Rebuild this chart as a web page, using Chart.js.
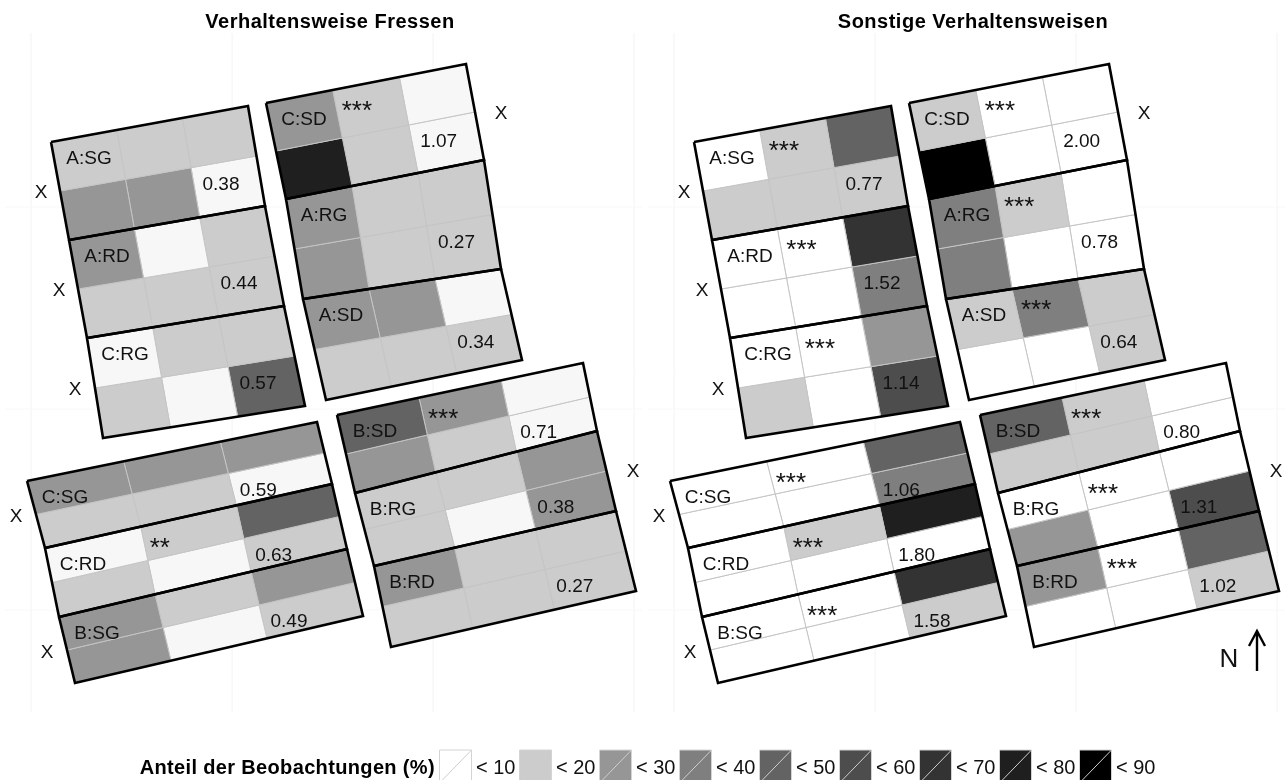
<!DOCTYPE html>
<html lang="de">
<head>
    <meta charset="UTF-8">
    <title>Anteil der Beobachtungen</title>
    <script src="https://cdn.jsdelivr.net/npm/chart.js"></script>
    <style>
        body {
            margin: 0;
            padding: 0;
            background: white;
        }
        canvas {
            display: block;
        }
    </style>
</head>
<body>
    <canvas id="mapChart" width="1285" height="780"></canvas>

    <script>
        // plots in the order they appear in every list below
        const plotNames = ['A:SG', 'A:RD', 'C:RG', 'C:SD', 'A:RG', 'A:SD', 'C:SG', 'C:RD', 'B:SG', 'B:SD', 'B:RG', 'B:RD'];

        // map position of each plot: top left, top right, bottom right, bottom left
        const plotCorners = [
            [[51, 142], [248, 106], [265, 206], [69, 240]],
            [[69, 240], [265, 206], [284, 306], [87, 338]],
            [[87, 338], [284, 306], [305, 406], [103, 438]],
            [[266, 103], [466, 64], [484, 160], [286, 199]],
            [[286, 199], [484, 160], [501, 269], [303, 299]],
            [[303, 299], [501, 269], [522, 360], [326, 400]],
            [[27, 481], [317, 422], [332, 484], [45, 548]],
            [[45, 548], [332, 484], [347, 549], [59, 617]],
            [[59, 617], [347, 549], [363, 616], [75, 683]],
            [[337, 415], [583, 363], [597, 431], [355, 493]],
            [[355, 493], [597, 431], [616, 511], [374, 566]],
            [[374, 566], [616, 511], [636, 591], [391, 647]]
        ];

        // share of observations (%), top row then bottom row, class middle read from the grey
        const feedShares = [
            [15, 15, 15, 25, 25, 5],
            [25, 5, 15, 15, 15, 15],
            [5, 15, 15, 15, 5, 45],
            [25, 15, 5, 75, 15, 5],
            [25, 15, 15, 25, 15, 15],
            [25, 25, 5, 15, 15, 15],
            [25, 25, 25, 15, 15, 5],
            [5, 15, 45, 15, 5, 15],
            [25, 15, 25, 25, 5, 15],
            [45, 25, 5, 25, 15, 5],
            [15, 15, 25, 15, 5, 25],
            [25, 15, 15, 15, 15, 15]
        ];
        const otherShares = [
            [5, 15, 45, 15, 15, 15],
            [5, 5, 65, 5, 5, 35],
            [5, 5, 25, 15, 5, 55],
            [15, 5, 5, 85, 5, 5],
            [35, 15, 5, 35, 5, 5],
            [15, 35, 15, 5, 5, 15],
            [5, 5, 45, 5, 5, 35],
            [5, 15, 75, 5, 5, 5],
            [5, 5, 65, 5, 5, 15],
            [45, 15, 5, 15, 15, 5],
            [5, 5, 5, 25, 5, 55],
            [25, 5, 45, 5, 5, 15]
        ];

        const feedRatios = [0.38, 0.44, 0.57, 1.07, 0.27, 0.34, 0.59, 0.63, 0.49, 0.71, 0.38, 0.27];
        const otherRatios = [0.77, 1.52, 1.14, 2.00, 0.78, 0.64, 1.06, 1.80, 1.58, 0.80, 1.31, 1.02];
        const feedStars = ['', '', '', '***', '', '', '', '**', '', '***', '', ''];
        const otherStars = ['***', '***', '***', '***', '***', '***', '***', '***', '***', '***', '***', '***'];

        // X marks beside the blocks, left panel position
        const markX = [41, 59, 75, 501, 16, 47, 633];
        const markY = [192, 290, 389, 113, 516, 652, 471];

        const gridX = [31, 232, 433, 634];
        const gridY = [207, 409, 610];

        const legendBreaks = [10, 20, 30, 40, 50, 60, 70, 80, 90];
        const legendLabels = ['< 10', '< 20', '< 30', '< 40', '< 50', '< 60', '< 70', '< 80', '< 90'];
        const legendColors = ['#ffffff', '#cccccc', '#969696', '#7f7f7f', '#636363', '#4d4d4d', '#333333', '#1f1f1f', '#000000'];

        const panelTitles = ['Verhaltensweise Fressen', 'Sonstige Verhaltensweisen'];
        const panelShift = 643;

        const FONT = '"Liberation Sans", Arial, sans-serif';

        function mix(a, b, t) {
            return [a[0] + (b[0] - a[0]) * t, a[1] + (b[1] - a[1]) * t];
        }

        // corner of the 3 x 2 cell grid inside a plot
        function gridPoint(corners, col, row) {
            const top = mix(corners[0], corners[1], col / 3);
            const bottom = mix(corners[3], corners[2], col / 3);
            return mix(top, bottom, row / 2);
        }

        function toPoints(list, shift) {
            return list.map(p => (p ? { x: p[0] + shift, y: p[1] } : { x: null, y: null }));
        }

        function shapeDataset(points, fillColor, lineColor, lineWidth, order) {
            return {
                data: points,
                showLine: true,
                tension: 0,
                pointRadius: 0,
                fill: fillColor ? 'shape' : false,
                backgroundColor: fillColor || 'transparent',
                borderColor: lineColor,
                borderWidth: lineWidth,
                borderJoinStyle: 'miter',
                order: order
            };
        }

        function colorForShare(share, lowColor) {
            const idx = legendBreaks.findIndex(b => share < b);
            return idx === 0 ? lowColor : legendColors[idx];
        }

        const datasets = [];

        // faint grid of the two panels
        [0, 1].forEach(panel => {
            const shift = panel * panelShift;
            gridX.forEach(x => {
                datasets.push(shapeDataset(toPoints([[x, 33], [x, 712]], shift), null, '#f8f8f8', 1, 5));
            });
            gridY.forEach(y => {
                datasets.push(shapeDataset(toPoints([[5, y], [642, y]], shift), null, '#f8f8f8', 1, 5));
            });
        });

        // cells and plot outlines
        [feedShares, otherShares].forEach((shares, panel) => {
            const shift = panel * panelShift;
            const lowColor = panel === 0 ? '#f7f7f7' : '#ffffff';
            plotCorners.forEach((corners, p) => {
                shares[p].forEach((share, i) => {
                    const col = i % 3;
                    const row = Math.floor(i / 3);
                    const cell = [
                        gridPoint(corners, col, row),
                        gridPoint(corners, col + 1, row),
                        gridPoint(corners, col + 1, row + 1),
                        gridPoint(corners, col, row + 1),
                        gridPoint(corners, col, row)
                    ];
                    datasets.push(shapeDataset(toPoints(cell, shift), colorForShare(share, lowColor), '#c4c4c4', 1, 3));
                });
                const outline = corners.concat([corners[0]]);
                datasets.push(shapeDataset(toPoints(outline, shift), null, '#000000', 2.6, 1));
            });
        });

        // north arrow
        datasets.push(shapeDataset(toPoints([[1257, 671], [1257, 631], null, [1249, 646], [1257, 631], [1265, 646]], 0), null, '#000000', 2.4, 1));

        // legend keys
        legendColors.forEach((color, i) => {
            const left = 439.5 + i * 80;
            const right = left + 32;
            datasets.push(shapeDataset(toPoints([[left, 750], [right, 750], [right, 783], [left, 783], [left, 750]], 0), color, '#d4d4d4', 1, 3));
            datasets.push(shapeDataset(toPoints([[left, 783], [right, 750]], 0), null, '#cfcfcf', 1, 2));
        });

        // text on the map, placed through the same scales as the cells
        const mapText = {
            id: 'mapText',
            afterDatasetsDraw(chart) {
                const ctx = chart.ctx;
                const xs = chart.scales.x;
                const ys = chart.scales.y;

                function put(text, x, y, font, align, color, spacing) {
                    ctx.font = font;
                    ctx.letterSpacing = spacing || '0px';
                    ctx.textAlign = align || 'center';
                    ctx.textBaseline = 'middle';
                    ctx.fillStyle = color || '#111111';
                    ctx.fillText(text, xs.getPixelForValue(x), ys.getPixelForValue(y));
                }

                ctx.save();
                [[feedRatios, feedStars], [otherRatios, otherStars]].forEach((lists, panel) => {
                    const shift = panel * panelShift;
                    put(panelTitles[panel], 330 + shift, 22, 'bold 20px ' + FONT, 'center', '#000000', '0.5px');
                    plotCorners.forEach((corners, p) => {
                        const a = gridPoint(corners, 0, 0);
                        const b = gridPoint(corners, 1, 0);
                        const c = gridPoint(corners, 2, 1);
                        put(plotNames[p], a[0] + 38 + shift, a[1] + 17, '19px ' + FONT);
                        if (lists[1][p]) {
                            put(lists[1][p], b[0] + 9 + shift, b[1] + 22, '26px ' + FONT, 'left');
                        }
                        put(lists[0][p].toFixed(2), c[0] + 30 + shift, c[1] + 17, '19px ' + FONT);
                    });
                    markX.forEach((x, i) => {
                        put('X', x + shift, markY[i] + 1, '19px ' + FONT);
                    });
                });
                put('N', 1229, 660, '26px ' + FONT);
                put('Anteil der Beobachtungen (%)', 435, 768, 'bold 20px ' + FONT, 'right', '#000000', '0.35px');
                legendLabels.forEach((label, i) => {
                    put(label, 476 + i * 80, 768, '20px ' + FONT, 'left');
                });
                ctx.restore();
            }
        };

        new Chart(document.getElementById('mapChart').getContext('2d'), {
            type: 'scatter',
            data: { datasets: datasets },
            options: {
                responsive: false,
                animation: false,
                layout: { padding: 0 },
                plugins: {
                    legend: { display: false },
                    title: { display: false },
                    tooltip: { enabled: false }
                },
                scales: {
                    x: { type: 'linear', min: 0, max: 1285, display: false },
                    y: { type: 'linear', min: 0, max: 780, reverse: true, display: false }
                }
            },
            plugins: [mapText]
        });
    </script>
</body>
</html>
